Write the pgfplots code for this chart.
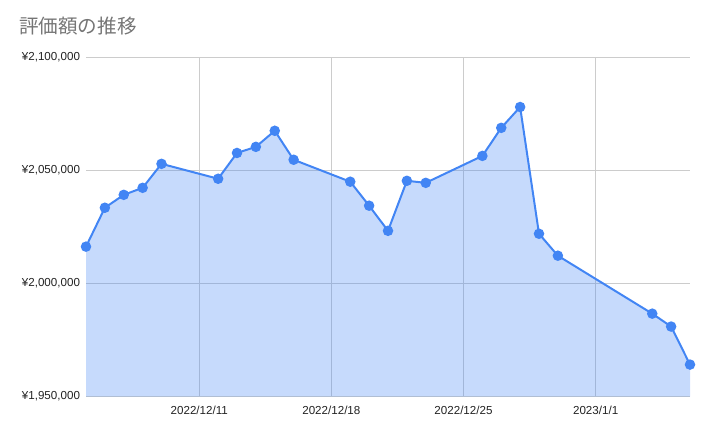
\documentclass[border=0pt]{standalone}
\usepackage{fontspec}
\setmainfont{Liberation Sans}
\newfontfamily\cjk{Noto Sans CJK JP}
\usepackage{pgfplots}
\pgfplotsset{compat=1.18}
\definecolor{gblue}{HTML}{4285F4}
\definecolor{ggrid}{HTML}{CCCCCC}
\definecolor{gtitle}{HTML}{757575}
\definecolor{gtick}{HTML}{222222}
\begin{document}
\begin{tikzpicture}
\path[use as bounding box] (0,0) rectangle (708bp,436bp);
\node[anchor=west, text=gtitle, font=\cjk\fontsize{19.6bp}{22bp}\selectfont, inner sep=0pt] at (19bp,410bp) {評価額の推移};
\begin{axis}[
  at={(86bp,39.5bp)}, anchor=south west,
  scale only axis,
  width=604bp, height=339.5bp,
  xmin=0, xmax=32,
  ymin=1950000, ymax=2100000,
  scaled ticks=false,
  axis line style={draw=none},
  xtick={6,13,20,27},
  xticklabels={2022/12/11,2022/12/18,2022/12/25,2023/1/1},
  ytick={1950000,2000000,2050000,2100000},
  yticklabels={{¥1,950,000},{¥2,000,000},{¥2,050,000},{¥2,100,000}},
  grid=major,
  major grid style={ggrid, line width=0.8bp},
  tick style={draw=none},
  ticklabel style={font=\fontsize{11.6bp}{13bp}\selectfont, text=gtick},
  yticklabel style={anchor=east, xshift=-2.5bp},
  xticklabel style={anchor=north, yshift=-6bp},
]
\addplot[draw=none, fill=gblue, fill opacity=0.3] table {
x y
0 2016200
1 2033400
2 2039100
3 2042200
4 2052800
7 2046200
8 2057600
9 2060300
10 2067400
11 2054600
14 2044900
15 2034300
16 2023200
17 2045300
18 2044400
21 2056300
22 2068700
23 2077900
24 2021900
25 2012200
30 1986600
31 1980900
32 1964100
} \closedcycle;
\addplot[gblue, line width=2bp, mark=*, mark size=4.2bp, mark options={fill=gblue, draw=none}] table {
x y
0 2016200
1 2033400
2 2039100
3 2042200
4 2052800
7 2046200
8 2057600
9 2060300
10 2067400
11 2054600
14 2044900
15 2034300
16 2023200
17 2045300
18 2044400
21 2056300
22 2068700
23 2077900
24 2021900
25 2012200
30 1986600
31 1980900
32 1964100
};
\end{axis}
\end{tikzpicture}
\end{document}
